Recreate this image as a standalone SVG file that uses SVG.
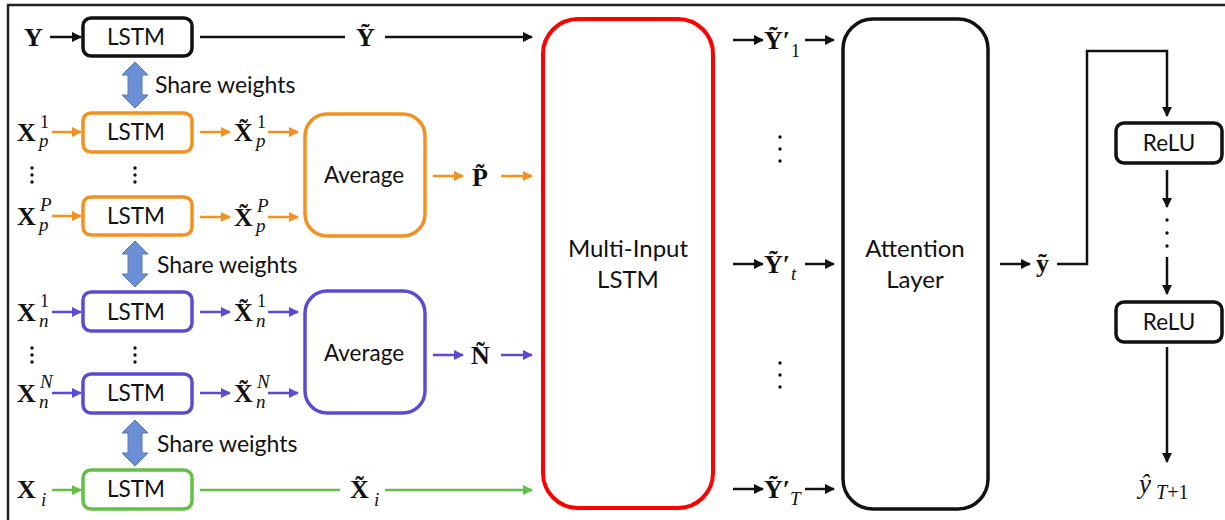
<svg xmlns="http://www.w3.org/2000/svg" width="1225" height="520" viewBox="0 0 1225 520">
  <defs>
    <style>
      .sans { font-family: Lato, "Open Sans", "Liberation Sans", sans-serif; fill: #111; }
      .lbl { font-size: 22.5px; text-anchor: middle; }
      .big { font-size: 24px; }
      .sw { font-size: 23px; }
      .m { font-family: "Liberation Serif", "DejaVu Serif", serif; font-weight: bold; font-size: 26px; fill: #111; }
      .s { font-family: "Liberation Serif", "DejaVu Serif", serif; font-style: italic; font-size: 19px; fill: #111; }
      .n { font-family: "Liberation Serif", "DejaVu Serif", serif; font-size: 18px; fill: #111; }
      .box { fill: #fff; stroke-width: 3.5; }
      .k { stroke: #111; }
      .or { stroke: #F39020; }
      .pu { stroke: #5B4BD0; }
      .gr { stroke: #62C046; }
      .rd { stroke: #FF0000; stroke-width: 4; }
      .ln { fill: none; stroke-width: 2.5; }
      .share { fill: #6A8FD6; stroke: #5577BB; stroke-width: 1; }
      .dot { fill: #111; }
    </style>
    <marker id="ak" viewBox="0 0 10 10" refX="9" refY="5" markerWidth="4.2" markerHeight="4.2" orient="auto"><path d="M0,0 L10,5 L0,10 z" fill="#111"/></marker>
    <marker id="ao" viewBox="0 0 10 10" refX="9" refY="5" markerWidth="4.2" markerHeight="4.2" orient="auto"><path d="M0,0 L10,5 L0,10 z" fill="#F39020"/></marker>
    <marker id="ap" viewBox="0 0 10 10" refX="9" refY="5" markerWidth="4.2" markerHeight="4.2" orient="auto"><path d="M0,0 L10,5 L0,10 z" fill="#5B4BD0"/></marker>
    <marker id="ag" viewBox="0 0 10 10" refX="9" refY="5" markerWidth="4.2" markerHeight="4.2" orient="auto"><path d="M0,0 L10,5 L0,10 z" fill="#62C046"/></marker>
    <path id="dbl" d="M0,-23 L13,-10 L7,-10 L7,10 L13,10 L0,23 L-13,10 L-7,10 L-7,-10 L-13,-10 z"/>
  </defs>

  <rect width="1225" height="520" fill="#fff"/>
  <!-- frame -->
  <path d="M7,5 H1225 M8,5 V520" fill="none" stroke="#222" stroke-width="2.5"/>

  <!-- connectors -->
  <g id="connectors" class="ln">
    <!-- row Y -->
    <line x1="50" y1="37" x2="81" y2="37" class="k" marker-end="url(#ak)"/>
    <line x1="200" y1="37" x2="345" y2="37" class="k"/>
    <line x1="385" y1="37" x2="532" y2="37" class="k" marker-end="url(#ak)"/>
    <!-- rows P -->
    <line x1="52" y1="132" x2="81" y2="132" class="or" marker-end="url(#ao)"/>
    <line x1="200" y1="132" x2="230" y2="132" class="or" marker-end="url(#ao)"/>
    <line x1="268" y1="132" x2="298" y2="132" class="or" marker-end="url(#ao)"/>
    <line x1="52" y1="216" x2="81" y2="216" class="or" marker-end="url(#ao)"/>
    <line x1="200" y1="217" x2="230" y2="217" class="or" marker-end="url(#ao)"/>
    <line x1="268" y1="217" x2="298" y2="217" class="or" marker-end="url(#ao)"/>
    <line x1="433" y1="176" x2="463" y2="176" class="or" marker-end="url(#ao)"/>
    <line x1="501" y1="176" x2="532" y2="176" class="or" marker-end="url(#ao)"/>
    <!-- rows N -->
    <line x1="52" y1="312" x2="81" y2="312" class="pu" marker-end="url(#ap)"/>
    <line x1="200" y1="312" x2="230" y2="312" class="pu" marker-end="url(#ap)"/>
    <line x1="268" y1="312" x2="298" y2="312" class="pu" marker-end="url(#ap)"/>
    <line x1="52" y1="393" x2="81" y2="393" class="pu" marker-end="url(#ap)"/>
    <line x1="200" y1="393" x2="230" y2="393" class="pu" marker-end="url(#ap)"/>
    <line x1="268" y1="393" x2="298" y2="393" class="pu" marker-end="url(#ap)"/>
    <line x1="433" y1="355" x2="463" y2="355" class="pu" marker-end="url(#ap)"/>
    <line x1="501" y1="355" x2="532" y2="355" class="pu" marker-end="url(#ap)"/>
    <!-- row X_i -->
    <line x1="52" y1="490" x2="81" y2="490" class="gr" marker-end="url(#ag)"/>
    <line x1="200" y1="490" x2="340" y2="490" class="gr"/>
    <line x1="385" y1="490" x2="532" y2="490" class="gr" marker-end="url(#ag)"/>
    <!-- multi-input outputs -->
    <line x1="733" y1="40" x2="763" y2="40" class="k" marker-end="url(#ak)"/>
    <line x1="805" y1="40" x2="834" y2="40" class="k" marker-end="url(#ak)"/>
    <line x1="733" y1="264" x2="763" y2="264" class="k" marker-end="url(#ak)"/>
    <line x1="805" y1="264" x2="834" y2="264" class="k" marker-end="url(#ak)"/>
    <line x1="733" y1="489" x2="763" y2="489" class="k" marker-end="url(#ak)"/>
    <line x1="805" y1="489" x2="834" y2="489" class="k" marker-end="url(#ak)"/>
    <!-- attention output and ReLU stack -->
    <line x1="1000" y1="264" x2="1030" y2="264" class="k" marker-end="url(#ak)"/>
    <polyline points="1057,264 1087,264 1087,51 1167,51 1167,116" class="k" marker-end="url(#ak)"/>
    <line x1="1167" y1="170" x2="1167" y2="207" class="k" marker-end="url(#ak)"/>
    <line x1="1167" y1="257" x2="1167" y2="294" class="k" marker-end="url(#ak)"/>
    <line x1="1167" y1="347" x2="1167" y2="462" class="k" marker-end="url(#ak)"/>
  </g>

  <!-- weight sharing arrows -->
  <g id="share-1"><use href="#dbl" x="135" y="85" class="share"/><text x="155" y="93" class="sans sw">Share weights</text></g>
  <g id="share-2"><use href="#dbl" x="135" y="264" class="share"/><text x="157" y="273" class="sans sw">Share weights</text></g>
  <g id="share-3"><use href="#dbl" x="135" y="443" class="share"/><text x="157" y="452" class="sans sw">Share weights</text></g>

  <!-- LSTM encoders -->
  <g id="lstm-y"><rect x="83" y="18" width="109" height="38" rx="8" class="box k"/><text x="136" y="45" class="sans lbl">LSTM</text></g>
  <g id="lstm-p1"><rect x="83" y="113" width="109" height="39" rx="8" class="box or"/><text x="136" y="140" class="sans lbl">LSTM</text></g>
  <g id="lstm-pP"><rect x="83" y="197" width="109" height="38" rx="8" class="box or"/><text x="136" y="224" class="sans lbl">LSTM</text></g>
  <g id="lstm-n1"><rect x="83" y="292" width="109" height="39" rx="8" class="box pu"/><text x="136" y="320" class="sans lbl">LSTM</text></g>
  <g id="lstm-nN"><rect x="83" y="374" width="109" height="39" rx="8" class="box pu"/><text x="136" y="401" class="sans lbl">LSTM</text></g>
  <g id="lstm-i"><rect x="83" y="470" width="109" height="39" rx="8" class="box gr"/><text x="136" y="497" class="sans lbl">LSTM</text></g>

  <!-- averaging blocks -->
  <g id="avg-p"><rect x="305" y="114" width="120" height="122" rx="22" class="box or"/><text x="364" y="183" class="sans lbl">Average</text></g>
  <g id="avg-n"><rect x="305" y="291" width="120" height="122" rx="22" class="box pu"/><text x="364" y="361" class="sans lbl">Average</text></g>

  <!-- multi-input LSTM -->
  <g id="multi-input-lstm"><rect x="543" y="19" width="170" height="489" rx="35" class="box rd"/>
    <text x="628" y="257" class="sans lbl big">Multi-Input</text><text x="628" y="288" class="sans lbl big">LSTM</text></g>

  <!-- attention -->
  <g id="attention"><rect x="843" y="19" width="145" height="490" rx="30" class="box k"/>
    <text x="915" y="257" class="sans lbl big">Attention</text><text x="915" y="288" class="sans lbl big">Layer</text></g>

  <!-- ReLU layers -->
  <g id="relu-1"><rect x="1116" y="123" width="106" height="40" rx="8" class="box k"/><text x="1169" y="151" class="sans lbl">ReLU</text></g>
  <g id="relu-2"><rect x="1116" y="302" width="106" height="40" rx="8" class="box k"/><text x="1169" y="330" class="sans lbl">ReLU</text></g>

  <!-- input symbols -->
  <g id="symbols">
    <text x="24" y="46" class="m">Y</text>
    <text x="17" y="141" class="m">X</text><text x="40" y="128" class="n">1</text><text x="39" y="147" class="s">p</text>
    <text x="17" y="225" class="m">X</text><text x="40" y="211" class="s">P</text><text x="39" y="231" class="s">p</text>
    <text x="17" y="321" class="m">X</text><text x="40" y="307" class="n">1</text><text x="39" y="327" class="s">n</text>
    <text x="17" y="402" class="m">X</text><text x="40" y="388" class="s">N</text><text x="39" y="408" class="s">n</text>
    <text x="17" y="498" class="m">X</text><text x="41" y="506" class="s">i</text>

    <!-- encoder outputs -->
    <text x="356" y="46" class="m">Ỹ</text>
    <text x="234" y="141" class="m">X̃</text><text x="257" y="128" class="n">1</text><text x="256" y="147" class="s">p</text>
    <text x="234" y="226" class="m">X̃</text><text x="257" y="212" class="s">P</text><text x="256" y="232" class="s">p</text>
    <text x="234" y="321" class="m">X̃</text><text x="257" y="307" class="n">1</text><text x="256" y="327" class="s">n</text>
    <text x="234" y="402" class="m">X̃</text><text x="257" y="388" class="s">N</text><text x="256" y="408" class="s">n</text>
    <text x="350" y="498" class="m">X̃</text><text x="374" y="506" class="s">i</text>
    <text x="472" y="186" class="m">P̃</text>
    <text x="471" y="364" class="m">Ñ</text>

    <!-- time-step outputs -->
    <text x="764" y="49" class="m">Ỹ′</text><text x="791" y="57" class="n">1</text>
    <text x="764" y="273" class="m">Ỹ′</text><text x="791" y="280" class="s">t</text>
    <text x="764" y="498" class="m">Ỹ′</text><text x="790" y="505" class="s">T</text>

    <text x="1036" y="272" class="m">ỹ</text>
    <text x="1139" y="493" class="s" style="font-size:27px">ŷ</text><text x="1156" y="499" class="s" style="font-size:20px">T<tspan style="font-style:normal">+1</tspan></text>
  </g>

  <!-- ellipsis marks -->
  <g id="ellipses" class="dot">
    <circle cx="32" cy="168" r="1.7"/><circle cx="32" cy="175" r="1.7"/><circle cx="32" cy="182" r="1.7"/>
    <circle cx="135" cy="168" r="1.7"/><circle cx="135" cy="175" r="1.7"/><circle cx="135" cy="182" r="1.7"/>
    <circle cx="32" cy="348" r="1.7"/><circle cx="32" cy="355" r="1.7"/><circle cx="32" cy="362" r="1.7"/>
    <circle cx="135" cy="348" r="1.7"/><circle cx="135" cy="355" r="1.7"/><circle cx="135" cy="362" r="1.7"/>
    <circle cx="780" cy="137" r="1.7"/><circle cx="780" cy="149" r="1.7"/><circle cx="780" cy="161" r="1.7"/>
    <circle cx="780" cy="363" r="1.7"/><circle cx="780" cy="375" r="1.7"/><circle cx="780" cy="387" r="1.7"/>
    <circle cx="1167" cy="220" r="1.7"/><circle cx="1167" cy="233" r="1.7"/><circle cx="1167" cy="246" r="1.7"/>
  </g>
</svg>
